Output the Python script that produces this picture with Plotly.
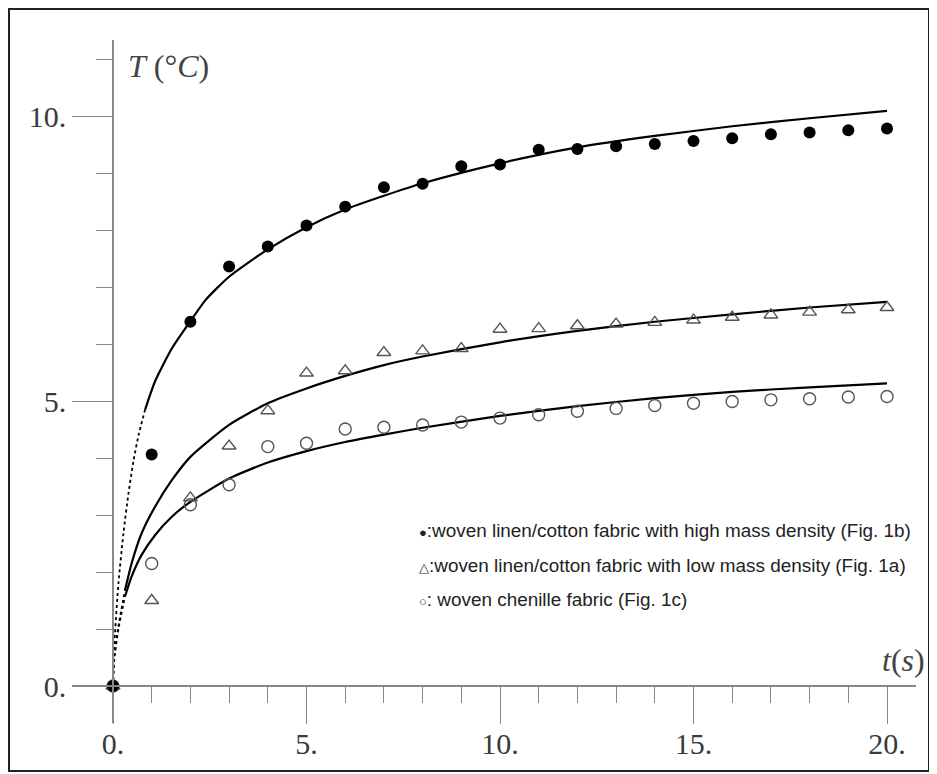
import plotly.graph_objects as go

# ---------------- data ----------------
t_meas = list(range(0, 21))
T_high = [0, 4.06, 6.39, 7.36, 7.71, 8.08, 8.41, 8.75, 8.81, 9.12, 9.15,
          9.41, 9.42, 9.47, 9.51, 9.56, 9.61, 9.68, 9.71, 9.75, 9.78]
T_low = [0, 1.50, 3.30, 4.21, 4.83, 5.49, 5.53, 5.85, 5.88, 5.92, 6.26,
         6.27, 6.32, 6.35, 6.38, 6.42, 6.47, 6.51, 6.56, 6.60, 6.64]
T_chen = [0, 2.15, 3.18, 3.53, 4.20, 4.26, 4.51, 4.54, 4.58, 4.63, 4.70,
          4.76, 4.82, 4.87, 4.92, 4.96, 4.99, 5.02, 5.04, 5.07, 5.08]

# fitted curves
fit_t_high = [0, 0.02, 0.05, 0.14, 0.27, 0.40, 0.53, 0.66, 0.83, 1.09, 1.52, 2.0,
              2.39, 3, 4, 5, 6, 7, 8, 10, 12, 14, 16, 18, 20]
fit_high = [0, 0.55, 0.92, 1.80, 2.68, 3.38, 3.95, 4.40, 4.85, 5.35, 5.92, 6.40,
            6.77, 7.18, 7.66, 8.05, 8.36, 8.60, 8.82, 9.17, 9.45, 9.65, 9.82, 9.96, 10.09]
fit_t_low = [0, 0.03, 0.14, 0.31, 0.48, 0.74, 1.09, 1.52, 2, 3, 4, 5, 6, 7, 8,
             10, 12, 14, 16, 18, 20]
fit_low = [0, 0.50, 1.05, 1.68, 2.15, 2.68, 3.15, 3.61, 4.02, 4.58, 4.96, 5.22,
           5.44, 5.63, 5.78, 6.03, 6.23, 6.39, 6.52, 6.64, 6.74]
fit_t_chen = [0, 0.03, 0.14, 0.31, 0.48, 0.74, 1.09, 1.52, 2, 3, 4, 5, 6, 7, 8,
              10, 12, 14, 16, 18, 20]
fit_chen = [0, 0.45, 1.00, 1.57, 1.92, 2.30, 2.65, 2.97, 3.23, 3.64, 3.92, 4.12,
            4.28, 4.41, 4.53, 4.74, 4.91, 5.05, 5.16, 5.24, 5.31]

x_tickvals = [0, 5, 10, 15, 20]
x_ticktext = ["0.", "5.", "10.", "15.", "20."]
x_minor = [v for v in range(1, 20) if v % 5]
y_tickvals = [0, 5, 10]
y_ticktext = ["0.", "5.", "10."]
y_minor = [v for v in range(1, 12) if v % 5]

legend_lines = [
    ("●", ":woven linen/cotton fabric with high mass density (Fig. 1b)"),
    ("△", ":woven linen/cotton fabric with low mass density (Fig. 1a)"),
    ("○", ": woven chenille fabric (Fig. 1c)"),
]

# ---------------- layout geometry (page pixels) ----------------
W, H = 937, 774
OFF = 8                    # page body margin offset
X0PX, XPX = 113, 38.7      # page pixel of t=0, pixels per second
Y0PX, YPX = 686, 57.0      # page pixel of T=0, pixels per degree
def tx(px): return (px - X0PX) / XPX
def ty(py): return (Y0PX - py) / YPX
def pxf(px): return (px - OFF) / W
def pyf(py): return (H - (py - OFF)) / H

x_dom = (72, 916)
y_dom = (723, 40)

fig = go.Figure()

def add_fit(ts, vs, ndot):
    fig.add_trace(go.Scatter(x=ts[:ndot + 1], y=vs[:ndot + 1], mode="lines",
                             line=dict(color="black", width=1.8, dash="dot", shape="spline", smoothing=0.6),
                             hoverinfo="skip", showlegend=False, cliponaxis=False))
    fig.add_trace(go.Scatter(x=ts[ndot:], y=vs[ndot:], mode="lines",
                             line=dict(color="black", width=2.2, shape="spline", smoothing=0.6),
                             hoverinfo="skip", showlegend=False, cliponaxis=False))

add_fit(fit_t_high, fit_high, 8)
add_fit(fit_t_low, fit_low, 3)
add_fit(fit_t_chen, fit_chen, 3)

fig.add_trace(go.Scatter(x=t_meas, y=T_chen, mode="markers", showlegend=False, cliponaxis=False,
                         marker=dict(symbol="circle-open", size=12, color="#555", line=dict(width=1.4, color="#555"))))
fig.add_trace(go.Scatter(x=t_meas, y=T_low, mode="markers", showlegend=False, cliponaxis=False,
                         marker=dict(symbol="triangle-up-open", size=12, color="#555", line=dict(width=1.4, color="#555"))))
fig.add_trace(go.Scatter(x=t_meas, y=T_high, mode="markers", showlegend=False, cliponaxis=False,
                         marker=dict(symbol="circle", size=12, color="black")))

axis_color = "#888"
tickfont = dict(family="Liberation Serif, serif", size=30, color="#3a3a3a")

fig.update_layout(
    width=W, height=H,
    margin=dict(l=0, r=0, t=0, b=0, autoexpand=False),
    paper_bgcolor="white", plot_bgcolor="white",
    xaxis=dict(domain=[pxf(x_dom[0]), pxf(x_dom[1])], range=[tx(x_dom[0]), tx(x_dom[1])],
               anchor="free", position=pyf(Y0PX), showgrid=False, zeroline=False,
               showline=True, linecolor=axis_color, linewidth=1.6,
               tickmode="array", tickvals=x_tickvals, ticktext=x_ticktext,
               ticks="outside", ticklen=37, tickwidth=1.4, tickcolor=axis_color,
               tickfont=tickfont, automargin=False, ticklabelstandoff=-6,
               minor=dict(tickmode="array", tickvals=x_minor, ticks="outside", ticklen=16,
                          tickwidth=1.4, tickcolor=axis_color, showgrid=False)),
    yaxis=dict(domain=[pyf(y_dom[0]), pyf(y_dom[1])], range=[ty(y_dom[0]), ty(y_dom[1])],
               anchor="free", position=pxf(X0PX), showgrid=False, zeroline=False,
               showline=True, linecolor=axis_color, linewidth=1.6,
               tickmode="array", tickvals=y_tickvals, ticktext=y_ticktext,
               ticks="outside", ticklen=40, tickwidth=1.4, tickcolor=axis_color,
               tickfont=tickfont, automargin=False,
               minor=dict(tickmode="array", tickvals=y_minor, ticks="outside", ticklen=16,
                          tickwidth=1.4, tickcolor=axis_color, showgrid=False)),
)

annotations = []
# axis arrows
annotations.append(dict(x=tx(926), y=0, xref="x", yref="y", ax=-14, ay=0, text="",
                        showarrow=True, arrowhead=2, arrowsize=1.2, arrowwidth=1.6, arrowcolor="#333"))
annotations.append(dict(x=0, y=ty(30), xref="x", yref="y", ax=0, ay=14, text="",
                        showarrow=True, arrowhead=2, arrowsize=1.2, arrowwidth=1.6, arrowcolor="#333"))
# axis titles
annotations.append(dict(x=pxf(126), y=pyf(66), xref="paper", yref="paper", xanchor="left", yanchor="middle",
                        text="<i>T</i> (°<i>C</i>)", showarrow=False,
                        font=dict(family="Liberation Serif, serif", size=32, color="#444")))
annotations.append(dict(x=pxf(927), y=pyf(660), xref="paper", yref="paper", xanchor="right", yanchor="middle",
                        text="<i>t</i>(<i>s</i>)", showarrow=False,
                        font=dict(family="Liberation Serif, serif", size=32, color="#444")))
# legend text
for (sym, txt), py in zip(legend_lines, [530, 565, 599]):
    annotations.append(dict(x=pxf(417), y=pyf(py), xref="paper", yref="paper", xanchor="left", yanchor="middle",
                            text=f"<span style='font-size:13px'>{sym}</span>{txt}", showarrow=False,
                            font=dict(family="Liberation Sans, Arial, sans-serif", size=18.9, color="#222")))
fig.update_layout(annotations=annotations)

# outer frame
fig.add_shape(type="rect", xref="paper", yref="paper",
              x0=pxf(9), x1=pxf(929), y0=pyf(771), y1=pyf(9),
              line=dict(color="#222", width=2), fillcolor="rgba(0,0,0,0)", layer="above")

fig.write_html("out.html")
